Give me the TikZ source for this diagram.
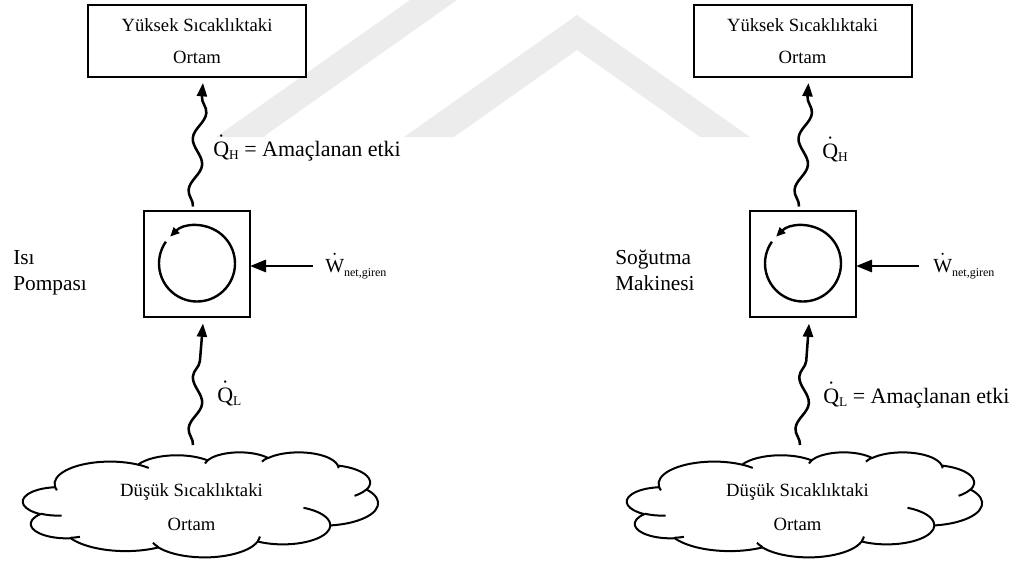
\documentclass[tikz,border=0pt]{standalone}
\usepackage{fontspec}
\setmainfont{Liberation Serif}
\usetikzlibrary{arrows.meta,decorations.pathmorphing,calc}
\definecolor{wm}{RGB}{236,236,236}
\newcommand{\dq}[1]{\ooalign{#1\cr\hidewidth\raisebox{0.3em}{˙}\hidewidth\cr}}
% elliptic arc given as in DrawingML (visual start angle, sweep)
\newcommand{\ooarc}[4]{arc[start angle={atan2((#1)*sin(#3),(#2)*cos(#3))}, delta angle={mod(atan2((#1)*sin((#3)+(#4)),(#2)*cos((#3)+(#4)))-atan2((#1)*sin(#3),(#2)*cos(#3))+720,360)}, x radius=#1, y radius=#2]}
\newcommand{\cloudoutline}{(39,143.7)
 \ooarc{67.53}{91.90}{-190.487}{123.781}
 \ooarc{53.33}{72.67}{-144.102}{89.945}
 \ooarc{43.65}{59.45}{-145.808}{99.723}
 \ooarc{48.57}{65.95}{-130.986}{117.242}
 \ooarc{53.33}{72.73}{-78.709}{109.027}
 \ooarc{67.75}{92.20}{-46.267}{130.269}
 \ooarc{57.85}{78.67}{0.625}{114.033}
 \ooarc{67.52}{92.15}{22.452}{115.173}
 \ooarc{77.20}{105.43}{66.243}{75.711}
 \ooarc{43.60}{59.18}{-274.942}{146.736}
 \ooarc{43.45}{59.45}{-246.829}{152.519} -- cycle}
\newcommand{\cloudcreases}{
 (46.93,261.77) \ooarc{43.45}{59.45}{86.742}{26.430}
 (69.28,348.99) \ooarc{43.60}{59.18}{73.610}{11.447}
 (164.78,390.90) \ooarc{67.52}{92.15}{137.624}{14.081}
 (288.27,347.51) \ooarc{67.52}{92.15}{6.453}{15.998}
 (341.29,229.54) \ooarc{57.85}{78.67}{-70.292}{70.917}
 (417.98,153.54) \ooarc{53.33}{72.73}{30.318}{27.752}
 (383.24,54.26) \ooarc{48.57}{65.95}{-13.744}{14.859}
 (290.78,39.52) \ooarc{48.57}{65.95}{-149.181}{18.195}
 (221.41,47.20) \ooarc{43.65}{59.45}{-163.494}{17.686}
 (140.00,51.92) \ooarc{67.53}{91.90}{-66.707}{12.319}
 (41.27,157.89) \ooarc{67.53}{91.90}{157.654}{11.858}}
\tikzset{
  boxnode/.style={draw, line width=1.5pt, fill=white, minimum width=163.5pt, minimum height=54pt, align=center, font=\fontsize{14}{24}\selectfont, inner sep=0pt, outer sep=0pt},
  cyclebox/.style={draw, line width=1.5pt, minimum width=79.5pt, minimum height=79.5pt, inner sep=0pt, outer sep=0pt},
  cloudline/.style={line width=1.5pt, line join=round},
  cloudtext/.style={align=center, font=\fontsize{14}{25.5}\selectfont, inner sep=0pt},
  heat/.style={line width=1.9pt, -{Triangle[length=10pt,width=7.5pt]}, decorate, decoration={snake, amplitude=4.3pt, segment length=39pt, post length=10pt}},
  work/.style={line width=2.2pt, -{Triangle[length=12pt,width=9pt]}},
  cyc/.style={line width=1.8pt, -{Triangle[length=7pt,width=6pt]}},
  qlabel/.style={anchor=base west, inner sep=0pt, font=\fontsize{16.5}{20}\selectfont},
  wlabel/.style={anchor=base west, inner sep=0pt, font=\fontsize{15}{18}\selectfont},
  side/.style={anchor=west, align=left, inner sep=0pt, text depth=3.5pt, font=\fontsize{16}{19.5}\selectfont},
}
\newcommand{\subs}[1]{\raisebox{-2.5pt}{\fontsize{10}{10}\selectfont #1}}
\begin{document}
\begin{tikzpicture}[x=0.75pt,y=0.75pt]
\useasboundingbox (0,0) rectangle (1013,-561);
% watermark
\fill[wm] (404,-137) -- (577,-15) -- (750,-137) -- (700,-137) -- (577,-50) -- (454,-137) -- cycle;
\fill[wm] (410,0) -- (457,0) -- (263,-137) -- (216,-137) -- cycle;

% ---------- left: heat pump ----------
\node[boxnode] (top1) at (197,-41) {Yüksek Sıcaklıktaki\\Ortam};
\node[cyclebox] (sq1) at (197,-263.5) {};
\begin{scope}[shift={(23,-452)}, xscale=0.82176, yscale=-0.24306]
  \draw[cloudline] \cloudoutline;
  \draw[cloudline] \cloudcreases;
\end{scope}
\node[cloudtext] (cl1) at (191.5,-507) {Düşük Sıcaklıktaki\\Ortam};
\coordinate (c1top) at (193,-445);
\node[side] (lb1) at (13,-272.4) {Isı\\Pompası};
\draw[cyc] ($(sq1.center)+(145:38)$) arc[start angle=145, end angle=495, radius=38];
\draw[heat] ($(sq1.north)+(-4,4)$) -- ($(top1.south)+(6,-6)$);
\draw[heat] (c1top) -- ($(sq1.south)+(6,-7)$);
\coordinate (w1s) at (313,-266);
\draw[work] (w1s) -- (w1s -| sq1.east);
\node[wlabel] (wl1) at (325,-272) {\dq{W}\raisebox{-3.5pt}{\fontsize{9}{9}\selectfont net,giren}};
\node[qlabel] (qh1) at (213,-156) {\dq{Q}\subs{H} = Amaçlanan etki};
\node[qlabel] (ql1) at (217,-402) {\dq{Q}\subs{L}};

% ---------- right: refrigerator ----------
\node[boxnode] (top2) at (802.5,-41) {Yüksek Sıcaklıktaki\\Ortam};
\node[cyclebox] (sq2) at (803,-263.5) {};
\begin{scope}[shift={(627,-452)}, xscale=0.82176, yscale=-0.24306]
  \draw[cloudline] \cloudoutline;
  \draw[cloudline] \cloudcreases;
\end{scope}
\node[cloudtext] (cl2) at (797.5,-507) {Düşük Sıcaklıktaki\\Ortam};
\coordinate (c2top) at (800,-445);
\node[side] (lb2) at (615,-272.4) {Soğutma\\Makinesi};
\draw[cyc] ($(sq2.center)+(145:38)$) arc[start angle=145, end angle=495, radius=38];
\draw[heat] ($(sq2.north)+(-4,4)$) -- ($(top2.south)+(6,-6)$);
\draw[heat] (c2top) -- ($(sq2.south)+(6,-7)$);
\coordinate (w2s) at (919,-266);
\draw[work] (w2s) -- (w2s -| sq2.east);
\node[wlabel] (wl2) at (933,-272) {\dq{W}\raisebox{-3.5pt}{\fontsize{9}{9}\selectfont net,giren}};
\node[qlabel] (qh2) at (822,-158) {\dq{Q}\subs{H}};
\node[qlabel] (ql2) at (823,-403) {\dq{Q}\subs{L} = Amaçlanan etki};
\end{tikzpicture}
\end{document}
